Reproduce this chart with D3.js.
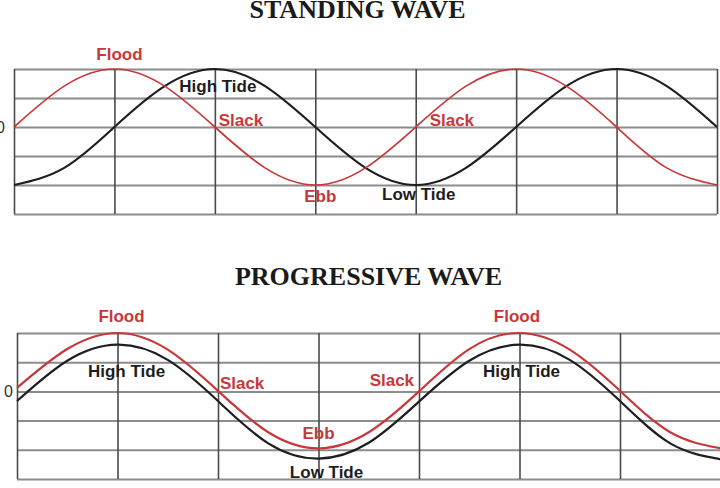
<!DOCTYPE html>
<html>
<head>
<meta charset="utf-8">
<script src="https://cdn.jsdelivr.net/npm/d3@7"></script>
<style>
  body { margin: 0; background: #fff; }
  svg { display: block; }
  .title { font-family: "Liberation Serif", "Times New Roman", serif; font-weight: bold; font-size: 26px; fill: #1a1a1a; }
  .lbl { font-family: "Liberation Sans", Arial, sans-serif; font-weight: bold; font-size: 17px; }
  .zero { font-family: "Liberation Sans", Arial, sans-serif; font-size: 16px; fill: #333; }
</style>
</head>
<body>
<div id="chart"></div>
<script>
/* DATA */
// positions along the wave, in grid columns
const phase = [0, 0.5, 1, 1.5, 2, 2.5, 3, 3.5, 4, 4.5, 5, 5.5, 6, 6.5, 7];

// standing wave: current (red) and height (black), in grid rows
const standingCurrent = [0, 1.41, 2, 1.41, 0, -1.41, -2, -1.41, 0, 1.41, 2, 1.41, 0, -1.41, -2];
const standingHeight  = [-2, -1.41, 0, 1.41, 2, 1.41, 0, -1.41, -2, -1.41, 0, 1.41, 2, 1.41, 0];

// progressive wave: current (red) and height (black)
const progCurrent = [0.12, 1.45, 2, 1.43, 0.02, -1.4, -1.95, -1.4, 0, 1.45, 2, 1.43, 0.02, -1.4, -1.95];
const progHeight  = [-0.33, 1.05, 1.6, 1.08, -0.33, -1.78, -2.3, -1.76, -0.35, 1.05, 1.6, 1.08, -0.33, -1.78, -2.32];

const gridCols = [0, 1, 2, 3, 4, 5, 6, 7];
const gridRows = [-3, -2, -1, 0, 1, 2];

const standingLabels = [
  { text: "Flood", x: 1.05, y: 2.31, kind: "current" },
  { text: "High Tide", x: 2.03, y: 1.22, kind: "height" },
  { text: "Slack", x: 2.26, y: 0.03, kind: "current" },
  { text: "Ebb", x: 3.05, y: -2.58, kind: "current" },
  { text: "Slack", x: 4.36, y: 0.03, kind: "current" },
  { text: "Low Tide", x: 4.03, y: -2.52, kind: "height" }
];

const progLabels = [
  { text: "Flood", x: 1.04, y: 2.36, kind: "current" },
  { text: "High Tide", x: 1.09, y: 0.49, kind: "height" },
  { text: "Slack", x: 2.24, y: 0.09, kind: "current" },
  { text: "Ebb", x: 3.0, y: -1.64, kind: "current" },
  { text: "Low Tide", x: 3.08, y: -2.96, kind: "height" },
  { text: "Slack", x: 3.73, y: 0.2, kind: "current" },
  { text: "Flood", x: 4.975, y: 2.37, kind: "current" },
  { text: "High Tide", x: 5.02, y: 0.51, kind: "height" }
];

/* CONSTANTS */
const width = 720, height = 488;
const red = "#c8383a", ink = "#1e1e1e";

const svg = d3.select("#chart")
  .append("svg")
  .attr("width", width)
  .attr("height", height);

// one panel = grid + two curves + labels
function drawPanel(opts) {
  const x = d3.scaleLinear().domain([0, 7]).range([opts.left, opts.right]);
  const y = d3.scaleLinear().domain([-3, 2]).range([opts.bottom, opts.top]);
  const g = svg.append("g");

  svg.append("text")
    .attr("class", "title")
    .attr("x", opts.titleX)
    .attr("y", opts.titleY)
    .attr("text-anchor", "middle")
    .text(opts.title);

  // horizontal grid
  const yGrid = g.append("g")
    .attr("transform", `translate(${opts.left},0)`)
    .call(d3.axisLeft(y).tickValues(gridRows).tickSize(-(opts.gridRight - opts.left)).tickFormat(""));
  yGrid.select(".domain").remove();
  yGrid.selectAll("line").attr("stroke", "#8c8c8c").attr("stroke-width", 2);

  // vertical grid
  const xGrid = g.append("g")
    .attr("transform", `translate(0,${opts.bottom})`)
    .call(d3.axisBottom(x).tickValues(gridCols).tickSize(-(opts.bottom - opts.top)).tickFormat(""));
  xGrid.select(".domain").remove();
  xGrid.selectAll("line").attr("stroke", "#4a4a4a").attr("stroke-width", 1.6);

  // zero label
  g.append("text")
    .attr("class", "zero")
    .attr("x", opts.left - opts.zeroPad)
    .attr("y", y(0))
    .attr("dy", "0.36em")
    .attr("text-anchor", "end")
    .text("0");

  const line = d3.line()
    .x((d, i) => x(phase[i]))
    .y(d => y(d))
    .curve(d3.curveNatural);

  g.append("path")
    .datum(opts.height)
    .attr("d", line)
    .attr("fill", "none")
    .attr("stroke", ink)
    .attr("stroke-width", 2.2);

  g.append("path")
    .datum(opts.current)
    .attr("d", line)
    .attr("fill", "none")
    .attr("stroke", red)
    .attr("stroke-width", opts.redWidth);

  g.selectAll("text.lbl")
    .data(opts.labels)
    .join("text")
    .attr("class", "lbl")
    .attr("x", d => x(d.x))
    .attr("y", d => y(d.y))
    .attr("text-anchor", "middle")
    .attr("fill", d => d.kind === "current" ? red : ink)
    .text(d => d.text);
}

drawPanel({
  title: "STANDING WAVE", titleX: 357.5, titleY: 18,
  left: 14, right: 717, gridRight: 717, top: 69, bottom: 214, zeroPad: 9,
  current: standingCurrent, height: standingHeight, labels: standingLabels, redWidth: 1.7
});

drawPanel({
  title: "PROGRESSIVE WAVE", titleX: 368.5, titleY: 285,
  left: 17, right: 720.5, gridRight: 720, top: 333, bottom: 479, zeroPad: 4,
  current: progCurrent, height: progHeight, labels: progLabels, redWidth: 2.2
});
</script>
</body>
</html>
